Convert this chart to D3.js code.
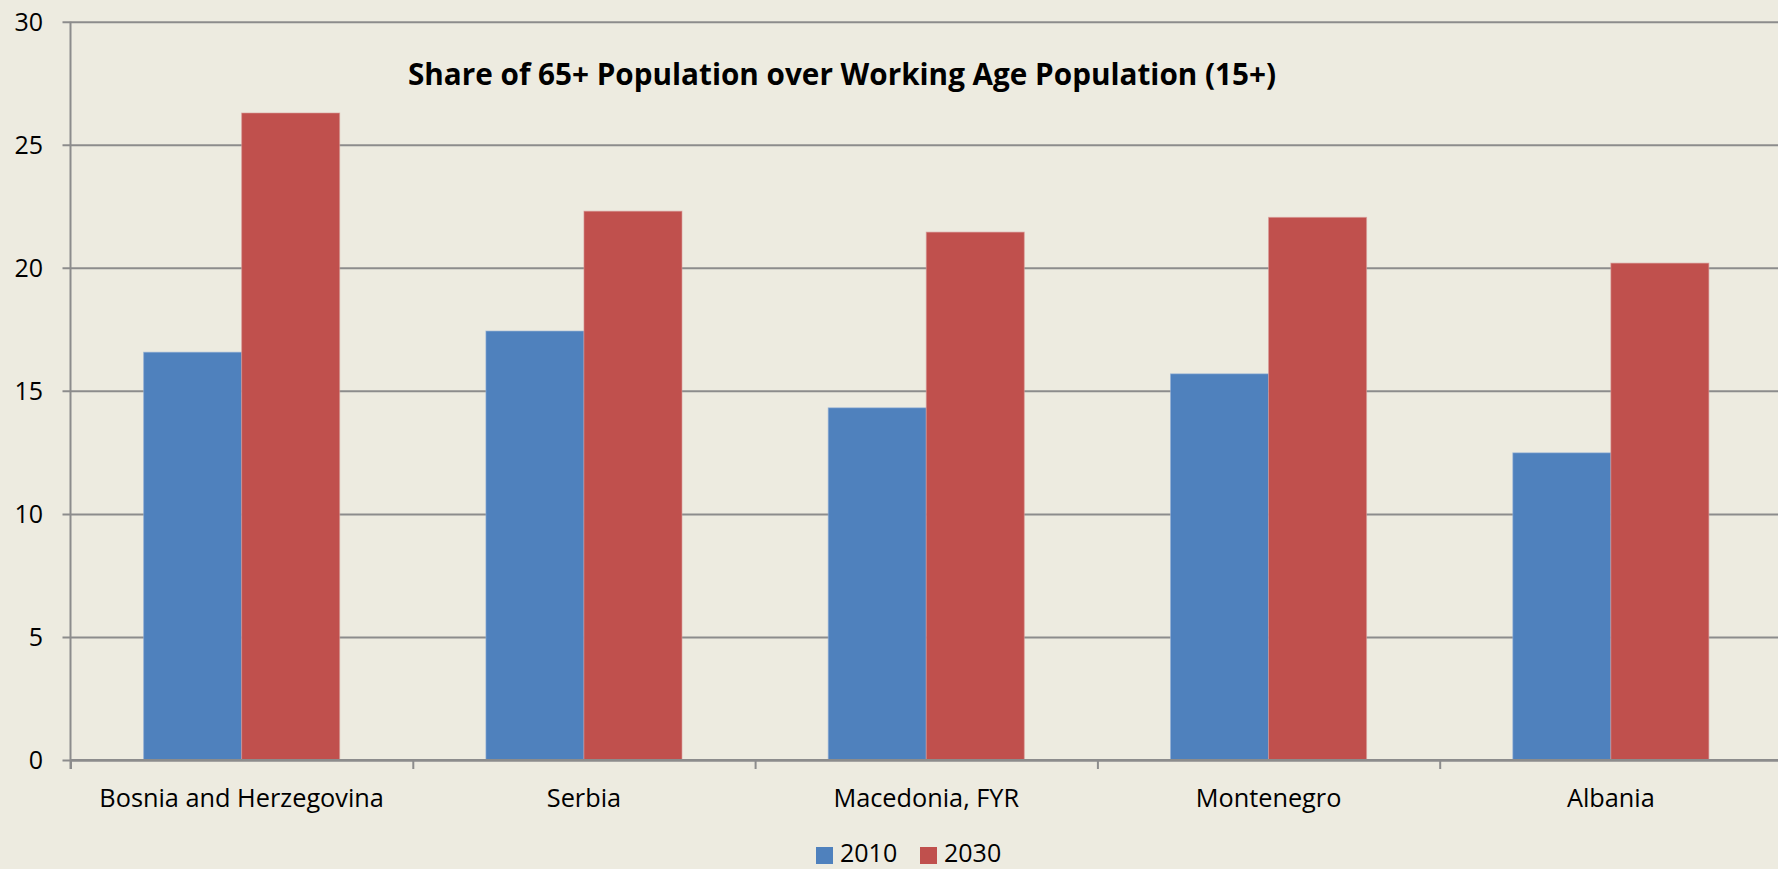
<!DOCTYPE html>
<html><head><meta charset="utf-8">
<script src="https://cdn.jsdelivr.net/npm/d3@7"></script>
<style>html,body{margin:0;padding:0;background:#EDEBE0;overflow:hidden}</style>
</head><body>
<svg id="c" width="1778" height="869"></svg>
<script>
const categories = ["Bosnia and Herzegovina","Serbia","Macedonia, FYR","Montenegro","Albania"];
const seriesNames = ["2010","2030"];
const values2010 = [16.57, 17.43, 14.31, 15.69, 12.48];
const values2030 = [26.29, 22.30, 21.45, 22.05, 20.19];
const yTicks = [0,5,10,15,20,25,30];
const colors = ["#4F81BD","#C0504D"];
const title = "Share of 65+ Population over Working Age Population (15+)";

const svg = d3.select("#c");
svg.append("rect").attr("width",1778).attr("height",869).attr("fill","#EDEBE0");

const x0 = 70.5, x1 = 70.5 + 5*342.3, yTop = 21.7, yBot = 760;
const x = d3.scaleBand().domain(categories).range([x0,x1]).padding(0);
const xs = d3.scaleBand().domain(seriesNames).range([0,x.bandwidth()]).paddingInner(0).paddingOuter(0.746);
const y = d3.scaleLinear().domain([0,30]).range([yBot,yTop]);

const font = "'Open Sans', sans-serif";
// gridlines + y ticks
const yAxis = d3.axisLeft(y).tickValues(yTicks).tickSize(-(1778-x0)).tickSizeOuter(0).tickPadding(0).tickFormat(()=>"");
const gy = svg.append("g").attr("transform",`translate(${x0},0)`).call(yAxis);
gy.select(".domain").remove();
gy.selectAll(".tick line").attr("stroke","#8C8C8C").attr("stroke-width",2).attr("x1",-8);
// y labels
svg.append("g").selectAll("text").data(yTicks).join("text")
  .attr("x",43).attr("y",d=>y(d)).attr("dy","0.36em").attr("text-anchor","end")
  .attr("font-family",font).attr("font-size",25).attr("fill","#000").text(d=>d);

// bars
const data = categories.map((c,i)=>({c, vals:[values2010[i],values2030[i]]}));
const groups = svg.append("g").selectAll("g").data(data).join("g")
  .attr("transform",d=>`translate(${x(d.c)},0)`);
groups.selectAll("rect").data(d=>d.vals.map((v,j)=>({v,s:seriesNames[j],j}))).join("rect")
  .attr("x",d=>xs(d.s)).attr("width",xs.bandwidth())
  .attr("y",d=>y(d.v)).attr("height",d=>yBot-y(d.v))
  .attr("fill",d=>colors[d.j])
  .attr("stroke",d=>d.j? "#D89A98":"#8FAED6").attr("stroke-width",1).attr("stroke-opacity",0.6);

// y axis line
svg.append("line").attr("x1",x0).attr("x2",x0).attr("y1",yTop).attr("y2",yBot+9)
  .attr("stroke","#8C8C8C").attr("stroke-width",2);
// x axis
const xb = d3.scaleLinear().domain([0,5]).range([x0,x1]);
const xAxis = d3.axisBottom(xb).tickValues([0,1,2,3,4,5]).tickSize(9).tickSizeOuter(0).tickFormat(()=>"");
const gx = svg.append("g").attr("transform",`translate(0,${yBot})`).call(xAxis);
gx.select(".domain").attr("stroke","#8C8C8C").attr("stroke-width",2);
gx.selectAll(".tick line").attr("stroke","#8C8C8C").attr("stroke-width",2);
svg.append("line").attr("x1",x0).attr("x2",1778).attr("y1",yBot).attr("y2",yBot).attr("stroke","#8C8C8C").attr("stroke-width",2);

// category labels
svg.append("g").selectAll("text").data(categories).join("text")
  .attr("x",d=>x(d)+x.bandwidth()/2).attr("y",807).attr("text-anchor","middle")
  .attr("font-family",font).attr("font-size",25.3).attr("fill","#000").text(d=>d);

// title
svg.append("text").attr("x",842).attr("y",85).attr("text-anchor","middle")
  .attr("font-family",font).attr("font-weight","bold").attr("font-size",29.7).attr("fill","#000").text(title);

// legend
const leg = svg.append("g");
const legX = [816, 920];
seriesNames.forEach((s,i)=>{
  leg.append("rect").attr("x",legX[i]).attr("y",847).attr("width",17).attr("height",17).attr("fill",colors[i]);
  leg.append("text").attr("x",legX[i]+24).attr("y",862).attr("font-family",font).attr("font-size",25).attr("fill","#000").text(s);
});
</script>
</body></html>
